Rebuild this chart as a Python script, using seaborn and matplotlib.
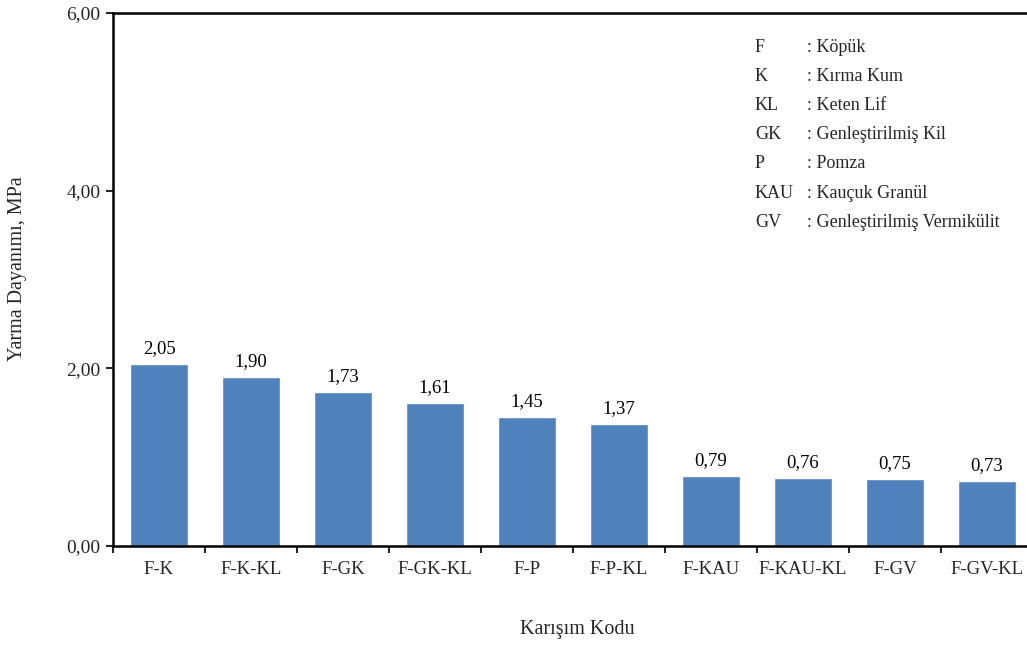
import pandas as pd
import matplotlib.pyplot as plt
import seaborn as sns
from matplotlib.ticker import FixedLocator

# Veriler
karisim = ['F-K', 'F-K-KL', 'F-GK', 'F-GK-KL', 'F-P', 'F-P-KL',
           'F-KAU', 'F-KAU-KL', 'F-GV', 'F-GV-KL']
yarma = [2.05, 1.90, 1.73, 1.61, 1.45, 1.37, 0.79, 0.76, 0.75, 0.73]

kisaltma = ['F', 'K', 'KL', 'GK', 'P', 'KAU', 'GV']
aciklama = ['Köpük', 'Kırma Kum', 'Keten Lif', 'Genleştirilmiş Kil',
            'Pomza', 'Kauçuk Granül', 'Genleştirilmiş Vermikülit']

data = pd.DataFrame({'kod': karisim, 'deger': yarma})

sns.set_style('white')
plt.rcParams['font.family'] = ['Liberation Serif', 'DejaVu Serif']

fig = plt.figure(figsize=(10.27, 6.46), dpi=100)
ax = fig.add_axes([113 / 1027, 100 / 646, 920 / 1027, 533 / 646])

sns.barplot(x='kod', y='deger', data=data, color='#4F81BD', saturation=1,
            width=0.62, ax=ax)

# Etiketler
for p, v in zip(ax.patches, yarma):
    ax.annotate(f'{v:.2f}'.replace('.', ','),
                (p.get_x() + p.get_width() / 2., p.get_height()),
                ha='center', va='bottom', fontsize=13.5, color='black',
                xytext=(0, 5), textcoords='offset points')

ax.set_xlim(-0.5, len(karisim) - 0.5)
ax.set_ylim(0, 6)
ax.set_yticks([0, 2, 4, 6])
ax.set_yticklabels([f'{t:.2f}'.replace('.', ',') for t in [0, 2, 4, 6]],
                   fontsize=14)
ax.tick_params(axis='x', which='major', length=0, labelsize=13.5, pad=11)
ax.tick_params(axis='y', which='major', direction='out', length=5, width=1.5,
               left=True, pad=4)
ax.xaxis.set_minor_locator(FixedLocator([i - 0.5 for i in range(len(karisim) + 1)]))
ax.tick_params(axis='x', which='minor', direction='out', length=5, width=1.5,
               bottom=True)

for s in ['left', 'bottom', 'top']:
    ax.spines[s].set_color('black')
    ax.spines[s].set_linewidth(1.8)
ax.spines['right'].set_visible(False)

ax.set_xlabel('Karışım Kodu', fontsize=14.5)
ax.set_ylabel('Yarma Dayanımı, MPa', fontsize=14.5)
ax.xaxis.set_label_coords(0.505, -0.139)
ax.yaxis.set_label_coords(-0.093, 0.52)

# Kısaltma açıklamaları
for i, (k, a) in enumerate(zip(kisaltma, aciklama)):
    y = 47 + i * 29.2
    fig.text(755 / 1027, 1 - y / 646, k, fontsize=13, va='center', ha='left')
    fig.text(807 / 1027, 1 - y / 646, ': ' + a, fontsize=13, va='center', ha='left')

plt.savefig('out.png', dpi=100)
